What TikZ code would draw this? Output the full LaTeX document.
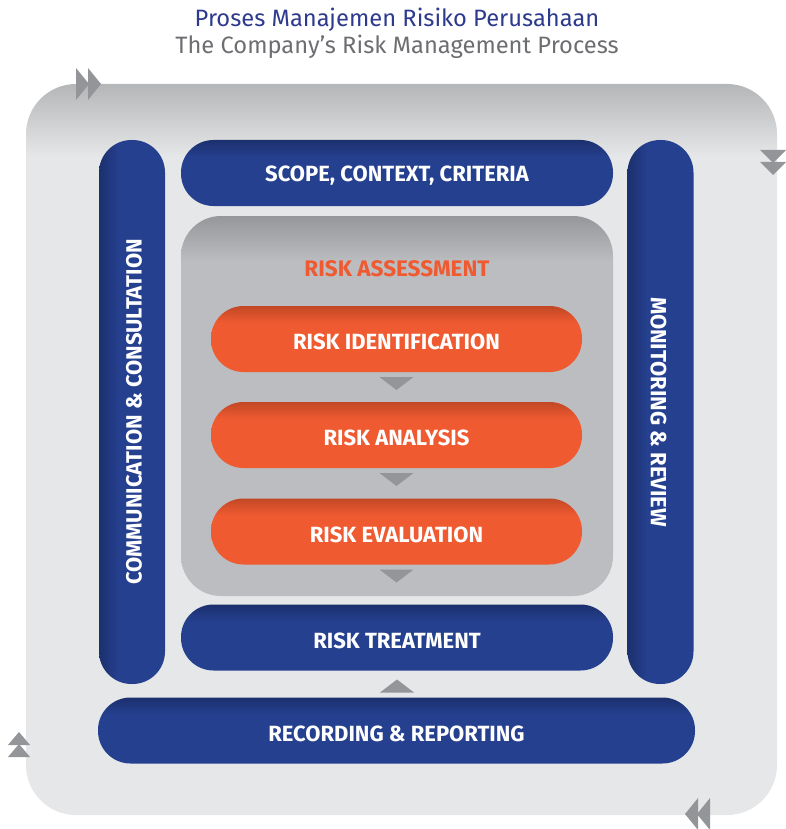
\documentclass[tikz,border=0pt]{standalone}
\usepackage{fontspec}
\setmainfont{Fira Sans}
\usetikzlibrary{calc}
\definecolor{bluebase}{HTML}{25408F}
\definecolor{bluedark}{HTML}{1C306E}
\definecolor{orangebase}{HTML}{F05A30}
\definecolor{orangedark}{HTML}{C24826}
\definecolor{greybox}{HTML}{BCBDC0}
\definecolor{greyboxdark}{HTML}{96979A}
\definecolor{outerbase}{HTML}{E6E7E8}
\definecolor{outerdark}{HTML}{B5B6B8}
\definecolor{arrowgrey}{HTML}{939598}
\definecolor{titleblue}{HTML}{2E3A8E}
\definecolor{titlegrey}{HTML}{6D6E71}
\pgfdeclareverticalshading{pillblue}{100bp}{color(0bp)=(bluebase); color(25bp)=(bluebase); color(62bp)=(bluebase); color(75bp)=(bluedark); color(100bp)=(bluedark)}
\pgfdeclareverticalshading{pillorange}{100bp}{color(0bp)=(orangebase); color(25bp)=(orangebase); color(62bp)=(orangebase); color(75bp)=(orangedark); color(100bp)=(orangedark)}
\pgfdeclarehorizontalshading{barblue}{100bp}{color(0bp)=(bluedark); color(25bp)=(bluedark); color(40bp)=(bluebase); color(100bp)=(bluebase)}
\pgfdeclareverticalshading{greyshade}{100bp}{color(0bp)=(greybox); color(25bp)=(greybox); color(69bp)=(greybox); color(75bp)=(greyboxdark); color(100bp)=(greyboxdark)}
\pgfdeclareverticalshading{outershade}{100bp}{color(0bp)=(outerbase); color(25bp)=(outerbase); color(70bp)=(outerbase); color(75bp)=(outerdark); color(100bp)=(outerdark)}
\tikzset{
  x=1pt, y=1pt,
  box/.style={inner sep=0pt, outer sep=0pt, text=white, font=\bfseries\fontsize{22}{24}\selectfont, align=center},
  bluepill/.style={box, rounded corners=32.5pt, shading=pillblue, minimum height=66pt},
  bluebar/.style={box, rounded corners=32.5pt, shading=barblue, minimum width=66pt, minimum height=544pt},
  orangepill/.style={box, rounded corners=32.5pt, shading=pillorange, minimum width=371pt, minimum height=66pt},
  lbl/.style={inner sep=0pt, text=white, font=\bfseries\fontsize{22}{24}\selectfont},
}
\begin{document}
\begin{tikzpicture}
\useasboundingbox (0,0) rectangle (786,-829);
% titles
\node[text=titleblue, font=\fontsize{23.7}{26}\selectfont] (t1) at (397,-20) {Proses Manajemen Risiko Perusahaan};
\node[text=titlegrey, font=\fontsize{23.7}{26}\selectfont] (t2) at (397,-47) {The Company’s Risk Management Process};
% outer frame
\node[inner sep=0pt, outer sep=0pt, rounded corners=50pt, shading=outershade, minimum width=751pt, minimum height=731pt] (outer) at (401.5,-449.5) {};
% chevrons
\foreach \dx in {0,12} {
  \fill[arrowgrey] ($(outer.north west)+(50+\dx,16)$) -- ++(13,-16) -- ++(-13,-16) -- cycle;
  \fill[arrowgrey] ($(outer.north east)+(-17,-66-\dx)$) -- ++(26,0) -- ++(-13,-13) -- cycle;
  \fill[arrowgrey] ($(outer.south west)+(-18,70-\dx)$) -- ++(22,0) -- ++(-11,13) -- cycle;
  \fill[arrowgrey] ($(outer.south east)+(-67-\dx,17)$) -- ++(0,-32) -- ++(-13,16) -- cycle;
}
% side bars
\node[bluebar] (comm) at (132,-412) {};
\node[lbl, rotate=90] (commtext) at ($(comm.center)+(2,0)$) {COMMUNICATION \& CONSULTATION};
\node[bluebar] (mon) at (660.5,-412) {};
\node[lbl, rotate=-90] (montext) at ($(mon.center)+(-2,0)$) {MONITORING \& REVIEW};
% scope
\node[bluepill, minimum width=432pt] (scope) at (397,-173) {};
\node[lbl] (scopetext) at ($(scope.center)+(0,-3)$) {SCOPE, CONTEXT, CRITERIA};
% assessment box
\node[inner sep=0pt, outer sep=0pt, rounded corners=40pt, shading=greyshade, minimum width=432pt, minimum height=380pt] (assess) at (397,-406) {};
\node[text=orangebase, font=\bfseries\fontsize{22.5}{24}\selectfont] (assesslabel) at (397,-269) {RISK ASSESSMENT};
\node[orangepill] (ident) at (396.5,-339) {};
\node[lbl] (identtext) at ($(ident.center)+(0,-3)$) {RISK IDENTIFICATION};
\node[orangepill] (anal) at (396.5,-435) {};
\node[lbl] (analtext) at ($(anal.center)+(0,-3)$) {RISK ANALYSIS};
\node[orangepill] (eval) at (396.5,-531.5) {};
\node[lbl] (evaltext) at ($(eval.center)+(0,-3)$) {RISK EVALUATION};
\foreach \n in {ident,anal,eval} {
  \fill[arrowgrey] ($(\n.south)+(-17,-5)$) -- ++(34,0) -- ++(-17,-13) -- cycle;
}
% treatment
\node[bluepill, minimum width=432pt] (treat) at (397,-637.5) {};
\node[lbl] (treattext) at ($(treat.center)+(0,-3)$) {RISK TREATMENT};
% recording
\node[bluepill, minimum width=597pt] (rec) at (396.5,-730.5) {};
\node[lbl] (rectext) at ($(rec.center)+(0,-3)$) {RECORDING \& REPORTING};
\fill[arrowgrey] ($(treat.south)+(-17,-22)$) -- ++(34,0) -- ++(-17,13) -- cycle;
\end{tikzpicture}
\end{document}
